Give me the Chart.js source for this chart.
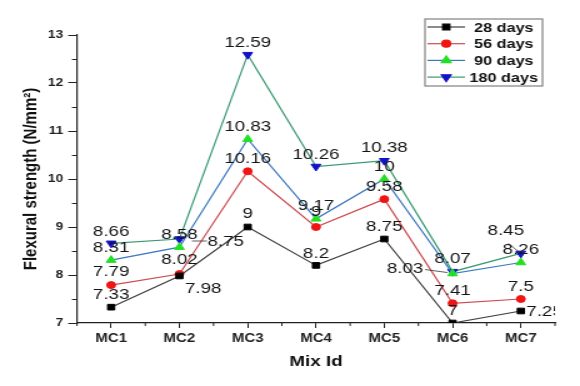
<!DOCTYPE html>
<html>
<head>
<meta charset="utf-8">
<script src="https://cdn.jsdelivr.net/npm/chart.js@4.4.1/dist/chart.umd.min.js"></script>
<style>
  body { margin: 0; background: #fff; }
</style>
</head>
<body>
<!-- the reference is stretched sideways, so the canvas is drawn narrow and shown at 580px -->
<canvas id="strength_chart" width="464" height="386" style="display:block;width:580px;height:386px"></canvas>
<script>
// values
const mixIds = ["MC1", "MC2", "MC3", "MC4", "MC5", "MC6", "MC7"];
const days28 = [7.33, 7.98, 9, 8.2, 8.75, 7, 7.25];
const days56 = [7.79, 8.02, 10.16, 9, 9.58, 7.41, 7.5];
const days90 = [8.31, 8.58, 10.83, 9.17, 10, 8.03, 8.26];
const days180 = [8.66, 8.75, 12.59, 10.26, 10.38, 8.07, 8.45];
const seriesNames = ["28 days", "56 days", "90 days", "180 days"];
const yTicks = [7, 8, 9, 10, 11, 12, 13];

// where each value label sits relative to its point [dx, dy]
const labelOffsets = [
    [[0,-12],[19,13],[0,-13],[0,-12],[0,-12],[0,-12],[19,1]],
    [[0,-13],[0,-14],[0,-12],[0,-15],[0,-12],[0,-12],[0,-12]],
    [[0,-12],[0,-12],[0,-12],[0,-13],[0,-12],[-38,-5],[0,-13]],
    [[0,-11],[37,3],[0,-12],[0,-12],[0,-13],[0,-13],[-12,-23]]
];
// short pointer lines [dataset, index, x1, y1, x2, y2] relative to the point
const leaders = [
    [3, 1, 10, 2, 22, 2],
    [2, 5, -22, -4, -4, -1],
    [3, 6, -10, -10, -1, -1]
];

const valueLabels = {
    id: "valueLabels",
    afterDatasetsDraw(chart) {
        const ctx = chart.ctx;
        const area = chart.chartArea;
        ctx.save();
        ctx.beginPath();
        ctx.rect(0, 0, area.right, chart.height);
        ctx.clip();
        ctx.strokeStyle = "#333";
        ctx.lineWidth = 0.8;
        leaders.forEach(function(l) {
            const pt = chart.getDatasetMeta(l[0]).data[l[1]];
            ctx.beginPath();
            ctx.moveTo(pt.x + l[2], pt.y + l[3]);
            ctx.lineTo(pt.x + l[4], pt.y + l[5]);
            ctx.stroke();
        });
        ctx.font = '15px "Liberation Sans", Arial, sans-serif';
        ctx.fillStyle = "#151515";
        ctx.textAlign = "center";
        ctx.textBaseline = "middle";
        chart.data.datasets.forEach(function(ds, di) {
            chart.getDatasetMeta(di).data.forEach(function(pt, i) {
                const off = labelOffsets[di][i];
                ctx.fillText(String(ds.data[i]), pt.x + off[0], pt.y + off[1]);
            });
        });
        ctx.restore();
    }
};

const minorTicks = {
    id: "minorTicks",
    afterDraw(chart) {
        const ctx = chart.ctx;
        const xs = chart.scales.x, ys = chart.scales.y;
        ctx.save();
        ctx.strokeStyle = "#222";
        ctx.lineWidth = 1;
        for (let v = yTicks[0] + 0.5; v < yTicks[yTicks.length - 1]; v += 1) {
            const y = Math.round(ys.getPixelForValue(v)) + 0.5;
            ctx.beginPath(); ctx.moveTo(ys.right - 4, y); ctx.lineTo(ys.right, y); ctx.stroke();
        }
        const step = xs.getPixelForValue(1) - xs.getPixelForValue(0);
        for (let i = 0; i <= mixIds.length; i++) {
            const x = xs.getPixelForValue(0) - step / 2 + i * step;
            ctx.beginPath(); ctx.moveTo(x, xs.top); ctx.lineTo(x, xs.top + 3); ctx.stroke();
        }
        ctx.restore();
    }
};

const boxLegend = {
    id: "boxLegend",
    afterDraw(chart) {
        const ctx = chart.ctx;
        ctx.save();
        ctx.strokeStyle = "#808080";
        ctx.lineWidth = 1.2;
        ctx.strokeRect(340, 19, 94, 67);
        chart.data.datasets.forEach(function(ds, i) {
            const y = 27 + i * 16.7;
            ctx.strokeStyle = ds.borderColor;
            ctx.lineWidth = 1.2;
            ctx.beginPath(); ctx.moveTo(342, y); ctx.lineTo(372, y); ctx.stroke();
            ctx.fillStyle = ds.pointBackgroundColor;
            ctx.strokeStyle = ds.pointBackgroundColor;
            Chart.helpers.drawPoint(ctx, {
                pointStyle: ds.pointStyle, radius: ds.pointRadius,
                rotation: ds.pointRotation || 0, borderWidth: 1
            }, 357, y);
            ctx.fillStyle = "#111";
            ctx.font = 'bold 13px "Liberation Sans", Arial, sans-serif';
            ctx.textAlign = "center";
            ctx.textBaseline = "middle";
            ctx.fillText(ds.label, 403, y + 1);
        });
        ctx.restore();
    }
};

function series(label, data, line, mark, style, radius, rotation) {
    return {
        label: label,
        data: data,
        borderColor: line,
        borderWidth: 1.2,
        pointStyle: style,
        pointRadius: radius,
        pointRotation: rotation,
        pointBackgroundColor: mark,
        pointBorderColor: mark,
        pointBorderWidth: 1,
        tension: 0
    };
}

let strengthChart = new Chart(document.getElementById("strength_chart"), {
    type: "line",
    data: {
        labels: mixIds,
        datasets: [
            series(seriesNames[0], days28, "#404040", "#000000", "rect", 4, 0),
            series(seriesNames[1], days56, "#cc4b50", "#f01414", "circle", 3.5, 0),
            series(seriesNames[2], days90, "#3c78c0", "#22e022", "triangle", 4.5, 0),
            series(seriesNames[3], days180, "#3a9a72", "#1212c8", "triangle", 4.5, 180)
        ]
    },
    options: {
        responsive: false,
        animation: false,
        layout: { padding: { left: 0, right: 20, top: 35, bottom: 0 } },
        plugins: {
            legend: { display: false },
            tooltip: { enabled: false }
        },
        scales: {
            x: {
                offset: true,
                afterFit: function(s) { s.height = 63; },
                grid: { drawOnChartArea: false, offset: false, tickLength: 5, tickColor: "#222" },
                border: { color: "#222", width: 1.2 },
                ticks: {
                    color: "#222", padding: 3,
                    font: { family: '"Liberation Sans", Arial, sans-serif', size: 12, weight: "bold" }
                },
                title: {
                    display: true, text: "Mix Id", color: "#111",
                    padding: { top: 0, bottom: 15 },
                    font: { family: '"Liberation Sans", Arial, sans-serif', size: 15, weight: "bold" }
                }
            },
            y: {
                min: yTicks[0],
                max: yTicks[yTicks.length - 1],
                afterFit: function(s) { s.width = 61.6; },
                afterBuildTicks: function(s) { s.ticks = yTicks.map(function(v) { return { value: v }; }); },
                grid: { drawOnChartArea: false, tickLength: 7, tickColor: "#222" },
                border: { color: "#222", width: 1.2 },
                ticks: {
                    color: "#222", padding: 4,
                    font: { family: '"Liberation Sans", Arial, sans-serif', size: 11, weight: "bold" }
                },
                title: {
                    display: true, text: "Flexural strength (N/mm²)", color: "#111",
                    padding: { top: 16, bottom: 0 },
                    font: { family: '"Liberation Sans", Arial, sans-serif', size: 15, weight: "bold" }
                }
            }
        }
    },
    plugins: [valueLabels, minorTicks, boxLegend]
});
</script>
</body>
</html>
